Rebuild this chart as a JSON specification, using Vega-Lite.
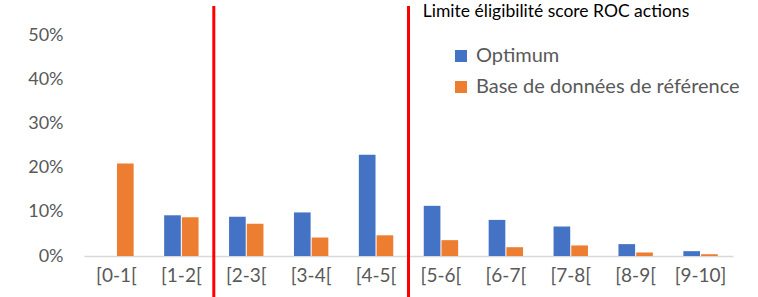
{
  "$schema": "https://vega.github.io/schema/vega-lite/v6.json",
  "width": 649,
  "height": 250,
  "autosize": {"type": "none"},
  "padding": {"left": 84, "top": 6, "right": 25, "bottom": 41},
  "background": "white",
  "config": {
    "view": {"stroke": null},
    "font": "Lato",
    "axis": {"labelFont": "Lato", "labelColor": "#595959", "labelFontSize": 17, "grid": false, "ticks": false, "title": null},
    "legend": {"labelFont": "Lato", "labelColor": "#595959", "labelFontSize": 17}
  },
  "layer": [
    {
      "data": {"values": [
        {"bin": "[0-1[", "series": "Optimum", "value": 0.0},
        {"bin": "[0-1[", "series": "Base de données de référence", "value": 0.210},
        {"bin": "[1-2[", "series": "Optimum", "value": 0.0925},
        {"bin": "[1-2[", "series": "Base de données de référence", "value": 0.088},
        {"bin": "[2-3[", "series": "Optimum", "value": 0.089},
        {"bin": "[2-3[", "series": "Base de données de référence", "value": 0.073},
        {"bin": "[3-4[", "series": "Optimum", "value": 0.099},
        {"bin": "[3-4[", "series": "Base de données de référence", "value": 0.042},
        {"bin": "[4-5[", "series": "Optimum", "value": 0.230},
        {"bin": "[4-5[", "series": "Base de données de référence", "value": 0.047},
        {"bin": "[5-6[", "series": "Optimum", "value": 0.114},
        {"bin": "[5-6[", "series": "Base de données de référence", "value": 0.036},
        {"bin": "[6-7[", "series": "Optimum", "value": 0.082},
        {"bin": "[6-7[", "series": "Base de données de référence", "value": 0.020},
        {"bin": "[7-8[", "series": "Optimum", "value": 0.067},
        {"bin": "[7-8[", "series": "Base de données de référence", "value": 0.024},
        {"bin": "[8-9[", "series": "Optimum", "value": 0.027},
        {"bin": "[8-9[", "series": "Base de données de référence", "value": 0.008},
        {"bin": "[9-10]", "series": "Optimum", "value": 0.011},
        {"bin": "[9-10]", "series": "Base de données de référence", "value": 0.004}
      ]},
      "mark": {"type": "bar"},
      "encoding": {
        "x": {
          "field": "bin", "type": "nominal", "sort": null,
          "scale": {"paddingInner": 0.47, "paddingOuter": 0.235},
          "axis": {"labelAngle": 0, "domainColor": "#d9d9d9", "domainWidth": 1.5, "labelPadding": 10, "labelFontSize": 19}
        },
        "xOffset": {"field": "series", "type": "nominal", "sort": ["Optimum", "Base de données de référence"], "scale": {"paddingInner": 0.06}},
        "y": {
          "field": "value", "type": "quantitative",
          "scale": {"domain": [0, 0.568], "nice": false},
          "axis": {"values": [0, 0.1, 0.2, 0.3, 0.4, 0.5], "format": ".0%", "domain": false, "labelPadding": 21, "labelFontSize": 18}
        },
        "color": {
          "field": "series", "type": "nominal",
          "sort": ["Optimum", "Base de données de référence"],
          "scale": {"range": ["#4472C4", "#ED7D31"]},
          "legend": {"title": null, "orient": "none", "legendX": 367, "legendY": 40, "symbolType": "square", "symbolSize": 144, "symbolStrokeWidth": 0, "rowPadding": 11, "labelOffset": 5, "labelFontSize": 20, "labelLimit": 400}
        }
      }
    },
    {
      "data": {"values": [{"pos": 2, "top": 0.568, "bottom": -0.093}, {"pos": 5, "top": 0.568, "bottom": -0.093}]},
      "mark": {"type": "rule", "color": "#FF0000", "strokeWidth": 3},
      "encoding": {
        "x": {"field": "pos", "type": "quantitative", "scale": {"domain": [0, 10], "nice": false}, "axis": null},
        "y": {"field": "top", "type": "quantitative"},
        "y2": {"field": "bottom"}
      }
    },
    {
      "data": {"values": [{"pos": 5.22, "lvl": 0.555, "label": "Limite éligibilité score ROC actions"}]},
      "mark": {"type": "text", "align": "left", "baseline": "middle", "fontSize": 17.5, "color": "#000000", "font": "Lato"},
      "encoding": {
        "x": {"field": "pos", "type": "quantitative", "scale": {"domain": [0, 10], "nice": false}, "axis": null},
        "y": {"field": "lvl", "type": "quantitative"},
        "text": {"field": "label"}
      }
    }
  ],
  "resolve": {"scale": {"x": "independent"}, "axis": {"x": "independent"}}
}
